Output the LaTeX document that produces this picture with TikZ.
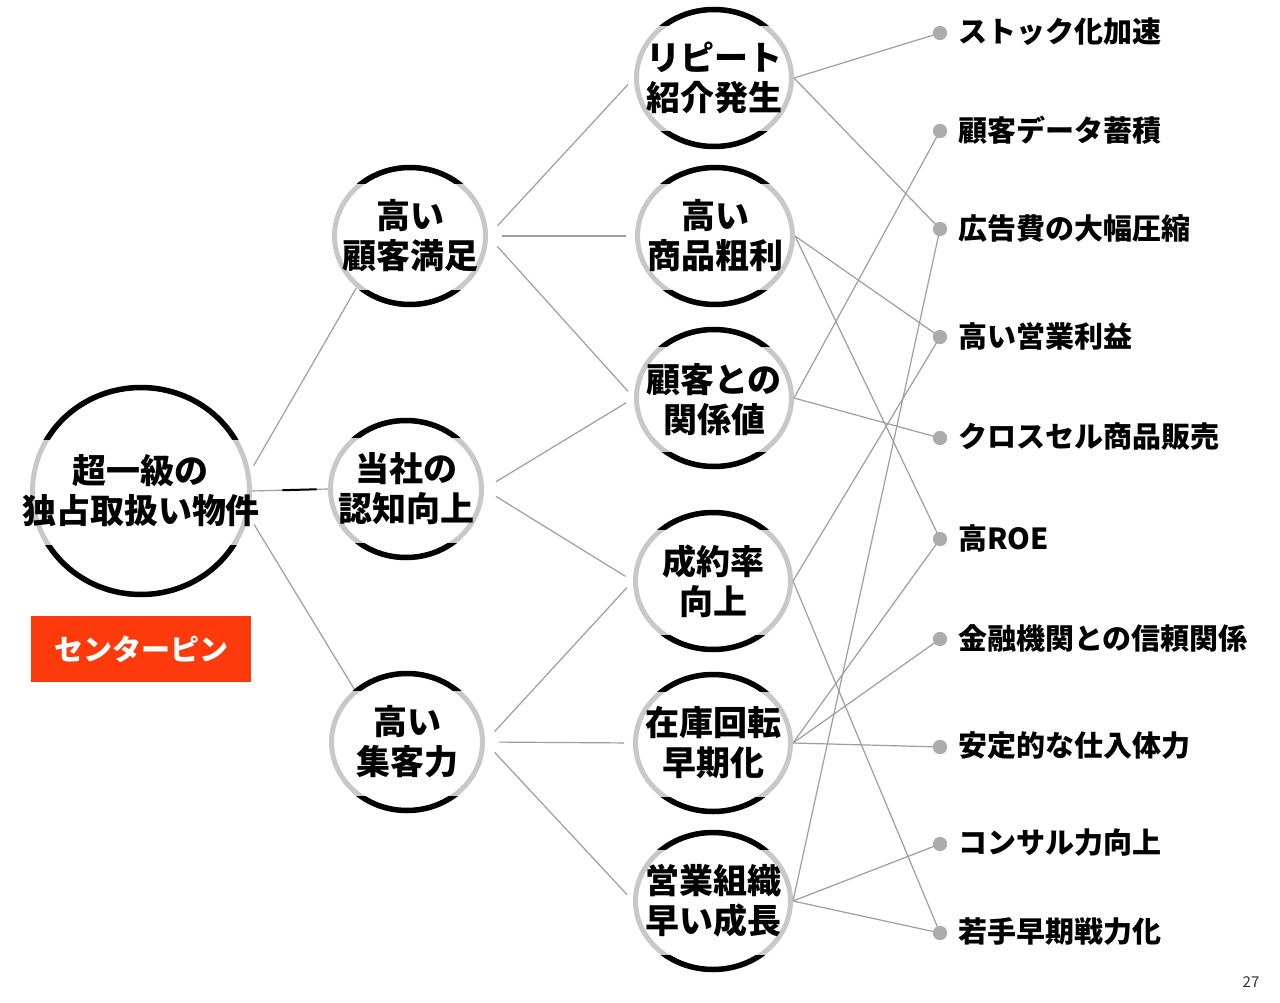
\documentclass[tikz,border=0pt]{standalone}
\usepackage{fontspec}
\setmainfont{Noto Sans CJK JP}
\usetikzlibrary{shapes.geometric,calc}
\definecolor{ringgrey}{RGB}{200,200,200}
\definecolor{linkgrey}{RGB}{158,158,158}
\definecolor{dotgrey}{RGB}{172,172,172}
\definecolor{pinred}{RGB}{252,58,12}
\newcommand\ringdraw[4]{%
  \draw[ringgrey, line width=5pt] (#1,#2) ellipse ({#3pt} and {#4pt});
  \begin{scope}
    \clip (#1-#3-10,#2-52) rectangle (#1+#3+10,#2-#4-10);
    \draw[black, line width=5.5pt] (#1,#2) ellipse ({#3pt} and {#4pt});
  \end{scope}
  \begin{scope}
    \clip (#1-#3-10,#2+54) rectangle (#1+#3+10,#2+#4+10);
    \draw[black, line width=5.5pt] (#1,#2) ellipse ({#3pt} and {#4pt});
  \end{scope}}
\begin{document}
\begin{tikzpicture}[x=1pt,y=-1pt,
  ringbox/.style={ellipse, inner sep=0, outer sep=0},
  bigbox/.style={ringbox, minimum width=222pt, minimum height=212pt},
  midbox/.style={ringbox, minimum width=156pt, minimum height=142pt},
  endbox/.style={ringbox, minimum width=160pt, minimum height=142pt},
  ringtext/.style={align=center, inner sep=0, font=\fontsize{34}{40}\selectfont\bfseries, text=black},
  link/.style={draw=linkgrey, line width=1.2pt},
  gap/.style={shorten <=14pt, shorten >=9pt},
  dot/.style={circle, fill=dotgrey, minimum size=14pt, inner sep=0},
  lab/.style={anchor=west, inner sep=0, font=\fontsize{29}{34}\selectfont\bfseries, text=black}]
\fill[white] (0,0) rectangle (1280,1003);
\useasboundingbox (0,0) rectangle (1280,1003);

% ring nodes (geometry)
\node[bigbox] (big) at (141,491) {};
\node[midbox] (s1) at (410,236) {};
\node[midbox] (s2) at (406,489) {};
\node[midbox] (s3) at (407,742) {};
\node[endbox] (t1) at (714,78) {};
\node[endbox] (t2) at (715,236) {};
\node[endbox] (t3) at (714,398) {};
\node[endbox] (t4) at (713,581) {};
\node[endbox] (t5) at (713,743) {};
\node[endbox] (t6) at (713,901) {};

% dots
\node[dot] (d1) at (940,33) {};
\node[dot] (d2) at (940,131) {};
\node[dot] (d3) at (940,229) {};
\node[dot] (d4) at (940,337) {};
\node[dot] (d5) at (940,438) {};
\node[dot] (d6) at (940,539) {};
\node[dot] (d7) at (940,639) {};
\node[dot] (d8) at (940,747) {};
\node[dot] (d9) at (940,844) {};
\node[dot] (d10) at (940,933) {};

% level 1 -> level 2
\draw[link, shorten <=7pt] (big.10) -- (s1.224);
\draw[link] (big.east) -- (s2.west);
\draw[black, line width=2pt] ($(big.east)!0.4!(s2.west)$) -- ($(big.east)!0.85!(s2.west)$);
\draw[link, shorten <=10pt] (big.-13) -- (s3.135);

% level 2 -> level 3
\draw[link, gap] (s1.east) -- (t1.west);
\draw[link, gap] (s1.east) -- (t2.west);
\draw[link, gap] (s1.east) -- (t3.west);
\draw[link, gap] (s2.east) -- (t3.west);
\draw[link, gap] (s2.east) -- (t4.west);
\draw[link, gap] (s3.east) -- (t4.west);
\draw[link, gap] (s3.east) -- (t5.west);
\draw[link, gap] (s3.east) -- (t6.west);

% level 3 -> outcomes
\draw[link] (t1.east) -- (d1.center);
\draw[link] (t1.east) -- (d3.center);
\draw[link] (t2.east) -- (d4.center);
\draw[link] (t2.east) -- (d6.center);
\draw[link] (t3.east) -- (d2.center);
\draw[link] (t3.east) -- (d5.center);
\draw[link] (t4.east) -- (d4.center);
\draw[link] (t4.east) -- (d10.center);
\draw[link] (t5.east) -- (d6.center);
\draw[link] (t5.east) -- (d7.center);
\draw[link] (t5.east) -- (d8.center);
\draw[link] (t6.east) -- (d3.center);
\draw[link] (t6.east) -- (d9.center);
\draw[link] (t6.east) -- (d10.center);

% rings
\ringdraw{141}{491}{108.5}{103.5}
\ringdraw{410}{236}{75.5}{68.5}
\ringdraw{406}{489}{75.5}{68.5}
\ringdraw{407}{742}{75.5}{68.5}
\ringdraw{714}{78}{77.5}{68.5}
\ringdraw{715}{236}{77.5}{68.5}
\ringdraw{714}{398}{77.5}{68.5}
\ringdraw{713}{581}{77.5}{68.5}
\ringdraw{713}{743}{77.5}{68.5}
\ringdraw{713}{901}{77.5}{68.5}

% dots on top
\fill[dotgrey] (d1) circle (7pt);
\fill[dotgrey] (d2) circle (7pt);
\fill[dotgrey] (d3) circle (7pt);
\fill[dotgrey] (d4) circle (7pt);
\fill[dotgrey] (d5) circle (7pt);
\fill[dotgrey] (d6) circle (7pt);
\fill[dotgrey] (d7) circle (7pt);
\fill[dotgrey] (d8) circle (7pt);
\fill[dotgrey] (d9) circle (7pt);
\fill[dotgrey] (d10) circle (7pt);

% ring texts
\node[ringtext] (bigtxt) at (big.center) {超一級の\\独占取扱い物件};
\node[ringtext] (s1txt) at (s1.center) {高い\\顧客満足};
\node[ringtext] (s2txt) at (s2.center) {当社の\\認知向上};
\node[ringtext] (s3txt) at (s3.center) {高い\\集客力};
\node[ringtext] (t1txt) at (t1.center) {リピート\\紹介発生};
\node[ringtext] (t2txt) at (t2.center) {高い\\商品粗利};
\node[ringtext] (t3txt) at ([yshift=-2pt]t3.center) {顧客との\\関係値};
\node[ringtext] (t4txt) at (t4.center) {成約率\\向上};
\node[ringtext] (t5txt) at (t5.center) {在庫回転\\早期化};
\node[ringtext] (t6txt) at (t6.center) {営業組織\\早い成長};

% outcome labels
\node[lab] (l1) at (958,32) {ストック化加速};
\node[lab] (l2) at (958,130) {顧客データ蓄積};
\node[lab] (l3) at (958,228) {広告費の大幅圧縮};
\node[lab] (l4) at (958,336) {高い営業利益};
\node[lab] (l5) at (958,437) {クロスセル商品販売};
\node[lab] (l6) at (958,538) {高ROE};
\node[lab] (l7) at (958,638) {金融機関との信頼関係};
\node[lab] (l8) at (958,746) {安定的な仕入体力};
\node[lab] (l9) at (958,843) {コンサル力向上};
\node[lab] (l10) at (958,932) {若手早期戦力化};

% center pin label
\node[fill=pinred, minimum width=220pt, minimum height=66pt, inner sep=0, text=white,
  font=\fontsize{29}{34}\selectfont\bfseries] (pin) at (141,649) {センターピン};

% page number
\node[font=\fontsize{15}{18}\selectfont, text=black!80, inner sep=0] (pg) at (1251,982) {27};
\end{tikzpicture}
\end{document}
